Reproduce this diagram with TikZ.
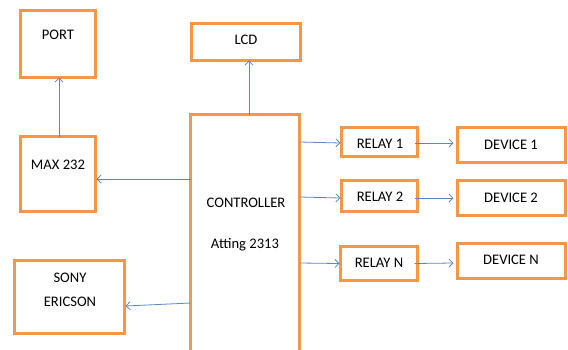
\documentclass[tikz,border=0pt]{standalone}
\usepackage{fontspec}
\setmainfont{Carlito}
\usetikzlibrary{arrows.meta,calc}
\definecolor{boxor}{HTML}{F79646}
\definecolor{arrbl}{HTML}{5B87C5}
\begin{document}
\begin{tikzpicture}[x=1pt,y=-1pt,
  box/.style={draw=boxor,line width=3pt,fill=white,inner sep=0pt,outer sep=0pt},
  lbl/.style={font=\fontsize{14.6}{16}\selectfont,inner sep=0pt,anchor=center},
  arr/.style={draw=arrbl,line width=0.8pt,-{Straight Barb[length=4pt,width=8pt]}}]
\useasboundingbox (0,0) rectangle (568,349);
\clip (0,0) rectangle (568,349);
% boxes
\node[box,minimum width=75pt,minimum height=67pt] (port) at (58,44) {};
\node[box,minimum width=109pt,minimum height=37pt] (lcd) at (246,42) {};
\node[box,minimum width=75pt,minimum height=75pt] (max) at (58,174) {};
\node[box,minimum width=110pt,minimum height=73pt] (sony) at (69.5,297) {};
\node[box,minimum width=109pt,minimum height=244pt] (ctrl) at (245,236.5) {};
\node[box,minimum width=76pt,minimum height=29pt] (r1) at (379.5,142) {};
\node[box,minimum width=108pt,minimum height=35pt] (d1) at (511.5,145) {};
\node[box,minimum width=76pt,minimum height=31pt] (r2) at (379.5,196) {};
\node[box,minimum width=108pt,minimum height=35pt] (d2) at (511.5,198) {};
\node[box,minimum width=77pt,minimum height=34pt] (rn) at (379,263.5) {};
\node[box,minimum width=108pt,minimum height=35pt] (dn) at (511.5,261) {};
% labels
\node[lbl] (tport) at (58,35) {PORT};
\node[lbl] (tlcd) at (246,40) {LCD};
\node[lbl] (tmax) at (58,165) {MAX 232};
\node[lbl] (tsony1) at (70,278) {SONY};
\node[lbl] (tsony2) at (70,302) {ERICSON};
\node[lbl] (tctrl1) at (246,203) {CONTROLLER};
\node[lbl] (tctrl2) at (245,245) {Atting 2313};
\node[lbl] (tr1) at (380,144) {RELAY 1};
\node[lbl] (td1) at (511,145) {DEVICE 1};
\node[lbl] (tr2) at (380,197) {RELAY 2};
\node[lbl] (td2) at (511,198) {DEVICE 2};
\node[lbl] (trn) at (379,263) {RELAY N};
\node[lbl] (tdn) at (511,260) {DEVICE N};
% connectors
\draw[arr] ($(ctrl.north)+(4,0)$) -- ($(lcd.south)+(3,0)$);
\draw[arr] ($(max.north)+(1,0)$) -- ($(port.south)+(1,0)$);
\draw[arr] ($(ctrl.west)+(0,-57.5)$) -- ($(max.east)+(1,5)$);
\draw[arr] ($(ctrl.west)+(0,66.5)$) -- ($(sony.east)+(1,9)$);
\draw[arr] ($(ctrl.east)+(0,-94.5)$) -- ($(r1.west)+(-1,1)$);
\draw[arr] ($(ctrl.east)+(0,-39.5)$) -- ($(r2.west)+(-1,2)$);
\draw[arr] ($(ctrl.east)+(0,26.5)$) -- ($(rn.west)+(-1,0)$);
\draw[arr] ($(r1.east)+(-3,1)$) -- ($(d1.west)+(-4,-2)$);
\draw[arr] ($(r2.east)+(-3,2)$) -- ($(d2.west)+(-4,0)$);
\draw[arr] ($(rn.east)+(-3,0)$) -- ($(dn.west)+(-4,2)$);
\end{tikzpicture}
\end{document}
